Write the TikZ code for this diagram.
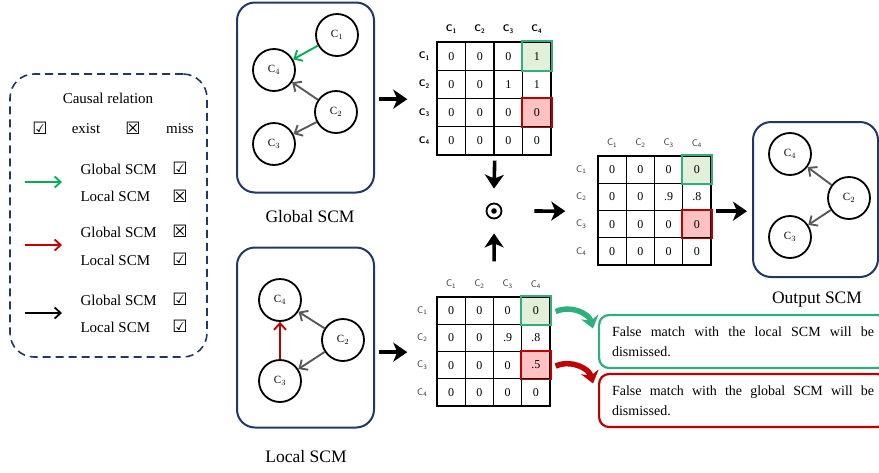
\documentclass[tikz,border=0pt]{standalone}
\usepackage{fontspec}
\setmainfont{Liberation Serif}
\newfontfamily\boxsym{DejaVu Sans}
\usetikzlibrary{arrows.meta,calc,positioning}
\definecolor{scmnavy}{RGB}{31,56,100}
\definecolor{keygreen}{RGB}{0,176,80}
\definecolor{keyred}{RGB}{192,0,0}
\definecolor{matchteal}{RGB}{46,175,125}
\definecolor{cellgreen}{RGB}{226,240,217}
\definecolor{cellred}{RGB}{255,194,194}
\definecolor{edgegray}{RGB}{89,89,89}
\hyphenpenalty=10000

\begin{document}
\begin{tikzpicture}[
  x=1pt,y=-1pt,
  scm/.style={
    draw=scmnavy,
    line width=2pt,
    rounded corners=18pt,
    minimum width=137pt
  },
  var/.style={
    circle,
    draw=black,
    line width=1.8pt,
    minimum size=42pt,
    inner sep=0pt,
    font=\fontsize{11}{13}\selectfont
  },
  causal/.style={
    draw=edgegray,
    line width=1.9pt,
    -{Straight Barb[length=6.5pt,width=12pt]}
  },
  found/.style={causal,draw=keygreen},
  spurious/.style={causal,draw=keyred},
  cell/.style={
    draw=black,
    line width=1.4pt,
    minimum width=28.5pt,
    minimum height=28.25pt,
    inner sep=0pt,
    font=\fontsize{12}{12}\selectfont
  },
  smallcell/.style={cell,minimum width=28.25pt,minimum height=27.25pt},
  nofill/.style={},
  gcell/.style={fill=cellgreen},
  rcell/.style={fill=cellred},
  gframe/.style={draw=matchteal,line width=1.8pt},
  rframe/.style={draw=keyred,line width=1.8pt},
  boldhead/.style={font=\sffamily\bfseries\fontsize{9.5}{10}\selectfont},
  thinhead/.style={font=\sffamily\fontsize{9.5}{10}\selectfont,text=black!80},
  flow/.style={
    draw=black,
    line width=3.6pt,
    -{Stealth[length=14pt,width=19pt,inset=4pt]}
  },
  swing/.style={line width=5.5pt,-{Stealth[length=12pt,width=18pt]}},
  msgbox/.style={
    line width=2.2pt,
    rounded corners=10pt,
    anchor=west,
    align=justify,
    text width=262pt,
    inner xsep=13pt,
    inner ysep=6pt,
    minimum height=53pt,
    font=\fontsize{14}{20}\selectfont
  },
  scmname/.style={font=\fontsize{17.5}{20}\selectfont},
  keytext/.style={anchor=west,font=\fontsize{15}{17}\selectfont},
  keybox/.style={font=\boxsym\fontsize{17}{17}\selectfont},
  keyarrow/.style={line width=1.8pt,-{Straight Barb[length=6pt,width=11pt]}}
]
\useasboundingbox (0,0) rectangle (879,472);

% Legend
\node[draw=scmnavy,line width=1.6pt,dash pattern=on 8pt off 5pt,
  rounded corners=24pt,minimum width=197pt,minimum height=283pt]
  (legend) at (108.5,215.5) {};
\node[font=\fontsize{15}{17}\selectfont] (keytitle) at (108,98) {Causal relation};
\node[keybox] (keyyes) at (40,128) {☑};
\node[keytext,anchor=center] (exist) at (86,129) {exist};
\node[keybox] (keyno) at (133,128) {☒};
\node[keytext,anchor=center] (miss) at (180,129) {miss};

\coordinate (gs) at (25,182);
\coordinate (ge) at (62,182);
\draw[keyarrow,draw=keygreen] (gs) -- (ge);
\node[keytext] (gglobal) at (77,169) {Global SCM};
\node[keybox] (gglobalbox) at (180,168) {☑};
\node[keytext] (glocal) at (77,196) {Local SCM};
\node[keybox] (glocalbox) at (180,196) {☒};

\coordinate (rs) at (25,245);
\coordinate (re) at (62,245);
\draw[keyarrow,draw=keyred] (rs) -- (re);
\node[keytext] (rglobal) at (77,232) {Global SCM};
\node[keybox] (rglobalbox) at (180,231) {☒};
\node[keytext] (rlocal) at (77,260) {Local SCM};
\node[keybox] (rlocalbox) at (180,259) {☑};

\coordinate (bs) at (25,313);
\coordinate (be) at (62,313);
\draw[keyarrow,draw=black] (bs) -- (be);
\node[keytext] (bglobal) at (77,300) {Global SCM};
\node[keybox] (bglobalbox) at (180,299) {☑};
\node[keytext] (blocal) at (77,327) {Local SCM};
\node[keybox] (blocalbox) at (180,326) {☑};

% Global SCM
\node[scm,minimum height=190pt] (global) at (305.5,97.5) {};
\node[var] (g1) at (337,35) {C$_1$};
\node[var] (g4) at (274,70) {C$_4$};
\node[var] (g2) at (336,112) {C$_2$};
\node[var] (g3) at (274,144) {C$_3$};
\node[scmname] (globalname) at (310,217) {Global SCM};
\draw[found] (g1) -- (g4);
\draw[causal] (g2) -- (g4);
\draw[causal] (g2) -- (g3);

% Local SCM
\node[scm,minimum height=180pt] (local) at (305.5,337.5) {};
\node[var] (l4) at (280,300) {C$_4$};
\node[var] (l2) at (343,340) {C$_2$};
\node[var] (l3) at (280,381) {C$_3$};
\node[scmname] (localname) at (306,457) {Local SCM};
\draw[spurious] (l3) -- (l4);
\draw[causal] (l2) -- (l4);
\draw[causal] (l2) -- (l3);

% Output SCM
\node[scm,minimum width=125pt,minimum height=155pt] (output) at (815.5,199.5) {};
\node[var] (o4) at (790,154) {C$_4$};
\node[var] (o2) at (849,198) {C$_2$};
\node[var] (o3) at (790,237) {C$_3$};
\node[scmname] (outputname) at (817,300) {Output SCM};
\draw[causal] (o2) -- (o4);
\draw[causal] (o2) -- (o3);

% Global adjacency matrix
\foreach \v/\s [count=\k from 0] in {0/nofill,0/nofill,0/nofill,1/gcell,
    0/nofill,0/nofill,1/nofill,1/nofill,
    0/nofill,0/nofill,0/nofill,0/rcell,
    0/nofill,0/nofill,0/nofill,0/nofill}{
  \pgfmathtruncatemacro\row{div(\k,4)+1}
  \pgfmathtruncatemacro\col{mod(\k,4)+1}
  \node[cell,\s] (g-\row-\col) at ({451.25+28.5*(\col-1)},{56.1+28.25*(\row-1)}) {\v};
}
\foreach \i in {1,...,4}{
  \node[boldhead] (gh-\i) at ($(g-1-\i.north)+(0,-12)$) {C\textsubscript{\i}};
  \node[boldhead] (gv-\i) at ($(g-\i-1.west)+(-12,0)$) {C\textsubscript{\i}};
}
\draw[gframe] (g-1-4.north west) rectangle (g-1-4.south east);
\draw[rframe] (g-3-4.north west) rectangle (g-3-4.south east);

% Local adjacency matrix
\foreach \v/\s [count=\k from 0] in {0/nofill,0/nofill,0/nofill,0/gcell,
    0/nofill,0/nofill,.9/nofill,.8/nofill,
    0/nofill,0/nofill,0/nofill,.5/rcell,
    0/nofill,0/nofill,0/nofill,0/nofill}{
  \pgfmathtruncatemacro\row{div(\k,4)+1}
  \pgfmathtruncatemacro\col{mod(\k,4)+1}
  \node[smallcell,\s] (l-\row-\col) at ({451.1+28.25*(\col-1)},{310.6+27.25*(\row-1)}) {\v};
}
\foreach \i in {1,...,4}{
  \node[thinhead] (lh-\i) at ($(l-1-\i.north)+(0,-12)$) {C\textsubscript{\i}};
  \node[thinhead] (lv-\i) at ($(l-\i-1.west)+(-14,0)$) {C\textsubscript{\i}};
}
\draw[gframe] (l-1-4.north west) rectangle (l-1-4.south east);
\draw[rframe] (l-3-4.north west) rectangle (l-3-4.south east);

% Output adjacency matrix
\foreach \v/\s [count=\k from 0] in {0/nofill,0/nofill,0/nofill,0/gcell,
    0/nofill,0/nofill,.9/nofill,.8/nofill,
    0/nofill,0/nofill,0/nofill,0/rcell,
    0/nofill,0/nofill,0/nofill,0/nofill}{
  \pgfmathtruncatemacro\row{div(\k,4)+1}
  \pgfmathtruncatemacro\col{mod(\k,4)+1}
  \node[smallcell,\s] (o-\row-\col) at ({612.1+28.25*(\col-1)},{169.6+27.25*(\row-1)}) {\v};
}
\foreach \i in {1,...,4}{
  \node[thinhead] (oh-\i) at ($(o-1-\i.north)+(0,-12)$) {C\textsubscript{\i}};
  \node[thinhead] (ov-\i) at ($(o-\i-1.west)+(-16,0)$) {C\textsubscript{\i}};
}
\draw[gframe] (o-1-4.north west) rectangle (o-1-4.south east);
\draw[rframe] (o-3-4.north west) rectangle (o-3-4.south east);

% Element-wise product
\node[circle,draw=black,line width=1.8pt,minimum size=15pt,inner sep=0pt] (prod) at (494,211) {};
\fill (prod.center) circle (2.8);

% Messages
\node[msgbox,draw=matchteal] (fm1) at (598,341.5)
  {False match with the local SCM will be dismissed.};
\node[msgbox,draw=keyred] (fm2) at (598,400.5)
  {False match with the global SCM will be dismissed.};

% Flow between the stages
\draw[flow] ($(global.east |- g-2-1.south west)+(4,0)$) -- ($(g-2-1.south west)+(-29,0)$);
\draw[flow] ($(local.east |- l-2-1.south west)+(4,0)$) -- ($(l-2-1.south west)+(-29,0)$);
\draw[flow] ($(g-4-2.south east)+(0,5)$) -- ($(prod.north)+(0,-14)$);
\draw[flow] ($(l-1-2.north east)+(0,-35)$) -- ($(prod.south)+(0,14)$);
\draw[flow] ($(prod.east)+(32,0)$) -- ($(o-2-1.south west)+(-32,0)$);
\draw[flow] ($(o-2-4.south east)+(4,0)$) -- ($(output.west |- o-2-4.south east)+(-5,0)$);
\draw[swing,draw=matchteal] ($(l-1-4.east)+(5,1)$) to[bend left=50] ($(fm1.west)+(-5,-13)$);
\draw[swing,draw=keyred] ($(l-3-4.east)+(5,1)$) to[bend left=50] ($(fm2.west)+(-5,-17)$);
\end{tikzpicture}
\end{document}
